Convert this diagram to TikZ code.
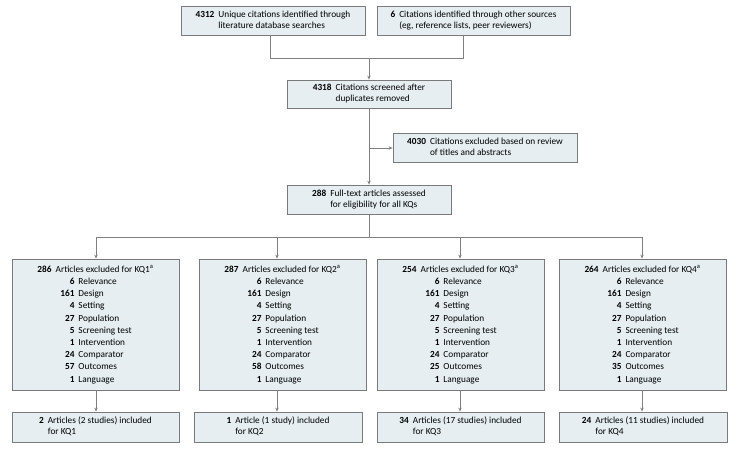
\documentclass[tikz,border=0pt]{standalone}
\usepackage{fontspec}
\setmainfont{Carlito}
\usetikzlibrary{arrows.meta}
\definecolor{boxfill}{HTML}{E6EEF2}
\definecolor{boxline}{HTML}{7A7A7A}
\definecolor{conn}{HTML}{808080}
\newcommand{\exitem}[2]{\makebox[37pt][r]{\textbf{#1}}\hspace{4pt}#2}
\newcommand{\hang}[3]{\begin{tabular}{@{}l@{\hspace{4pt}}l@{}}\textbf{#1} & #2\\ & #3\end{tabular}}
\tikzset{
  flowbox/.style={draw=boxline, fill=boxfill, line width=0.8pt, inner sep=0pt, minimum height=29pt,
    font=\fontsize{9.3}{11}\selectfont, text=black},
  listbox/.style={flowbox, minimum width=167pt, minimum height=131pt, align=left,
    font=\fontsize{9.3}{12.2}\selectfont},
  link/.style={draw=conn, line width=0.8pt},
  arrowlink/.style={link, -{Stealth[length=4pt,width=3.5pt]}}
}
\begin{document}
\begin{tikzpicture}[x=1pt,y=-1pt]
\useasboundingbox (0,0) rectangle (741,449);
% top boxes
\node[flowbox, minimum width=184pt] (A) at (273,20.5) {\hang{4312}{Unique citations identified through}{literature database searches}};
\node[flowbox, minimum width=193pt] (B) at (473.5,20.5) {\hang{6}{Citations identified through other sources}{(eg, reference lists, peer reviewers)}};
\node[flowbox, minimum width=164pt, minimum height=28pt] (C) at (369,94) {\hang{4318}{Citations screened after}{duplicates removed}};
\node[flowbox, minimum width=184pt] (D) at (485,147.5) {\hang{4030}{Citations excluded based on review}{of titles and abstracts}};
\node[flowbox, minimum width=164pt] (E) at (369,199.5) {\hang{288}{Full-text articles assessed}{for eligibility for all KQs}};
% exclusion boxes
\node[listbox] (K1) at (95.5,324.5) {\textbf{286}\hspace{4pt}Articles excluded for KQ1\textsuperscript{a}\\
\exitem{6}{Relevance}\\ \exitem{161}{Design}\\ \exitem{4}{Setting}\\ \exitem{27}{Population}\\
\exitem{5}{Screening test}\\ \exitem{1}{Intervention}\\ \exitem{24}{Comparator}\\ \exitem{57}{Outcomes}\\ \exitem{1}{Language}};
\node[listbox] (K2) at (282.5,324.5) {\textbf{287}\hspace{4pt}Articles excluded for KQ2\textsuperscript{a}\\
\exitem{6}{Relevance}\\ \exitem{161}{Design}\\ \exitem{4}{Setting}\\ \exitem{27}{Population}\\
\exitem{5}{Screening test}\\ \exitem{1}{Intervention}\\ \exitem{24}{Comparator}\\ \exitem{58}{Outcomes}\\ \exitem{1}{Language}};
\node[listbox] (K3) at (460.5,324.5) {\textbf{254}\hspace{4pt}Articles excluded for KQ3\textsuperscript{a}\\
\exitem{6}{Relevance}\\ \exitem{161}{Design}\\ \exitem{4}{Setting}\\ \exitem{27}{Population}\\
\exitem{5}{Screening test}\\ \exitem{1}{Intervention}\\ \exitem{24}{Comparator}\\ \exitem{25}{Outcomes}\\ \exitem{1}{Language}};
\node[listbox] (K4) at (642.5,324.5) {\textbf{264}\hspace{4pt}Articles excluded for KQ4\textsuperscript{a}\\
\exitem{6}{Relevance}\\ \exitem{161}{Design}\\ \exitem{4}{Setting}\\ \exitem{27}{Population}\\
\exitem{5}{Screening test}\\ \exitem{1}{Intervention}\\ \exitem{24}{Comparator}\\ \exitem{35}{Outcomes}\\ \exitem{1}{Language}};
% included boxes
\node[flowbox, minimum width=167pt, minimum height=30pt] (I1) at (95.5,427) {\hang{2}{Articles (2 studies) included}{for KQ1}};
\node[flowbox, minimum width=168pt, minimum height=30pt] (I2) at (278,427) {\hang{1}{Article (1 study) included}{for KQ2}};
\node[flowbox, minimum width=167pt, minimum height=30pt] (I3) at (460.5,427) {\hang{34}{Articles (17 studies) included}{for KQ3}};
\node[flowbox, minimum width=168pt, minimum height=30pt] (I4) at (643,427) {\hang{24}{Articles (11 studies) included}{for KQ4}};
% coordinates
\coordinate (mA) at (270,58);
\coordinate (mB) at (463,58);
\coordinate (mC) at (369,58);
\coordinate (bD) at (369,148);
\coordinate (bE) at (369,237);
\coordinate (b1) at (96,237);
\coordinate (b2) at (277,237);
\coordinate (b3) at (460,237);
\coordinate (b4) at (642,237);
% connectors
\draw[link] (A.south -| mA) -- (mA) -- (mB) -- (B.south -| mB);
\draw[arrowlink] (mC) -- (C.north);
\draw[arrowlink] (C.south) -- (E.north);
\draw[arrowlink] (bD) -- (D.west |- bD);
\draw[link] (E.south) -- (bE);
\draw[link] (b1) -- (b4);
\draw[arrowlink] (b1) -- (K1.north -| b1);
\draw[arrowlink] (b2) -- (K2.north -| b2);
\draw[arrowlink] (b3) -- (K3.north -| b3);
\draw[arrowlink] (b4) -- (K4.north -| b4);
\draw[arrowlink] (K1.south -| b1) -- (I1.north -| b1);
\draw[arrowlink] (K2.south -| b2) -- (I2.north -| b2);
\draw[arrowlink] (K3.south -| b3) -- (I3.north -| b3);
\draw[arrowlink] (K4.south -| b4) -- (I4.north -| b4);
\end{tikzpicture}
\end{document}
